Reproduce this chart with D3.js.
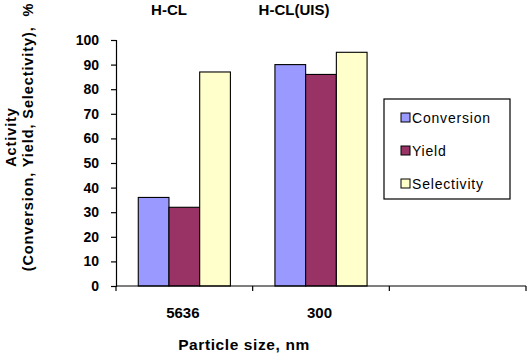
<!DOCTYPE html>
<html><head><meta charset="utf-8">
<script src="https://cdn.jsdelivr.net/npm/d3@7"></script>
<style>
html,body{margin:0;padding:0;background:#fff;}
text{font-family:"Liberation Sans",Arial,sans-serif;}
</style></head>
<body>
<svg id="chart" width="529" height="361"></svg>
<script>
const categories = ["5636", "300", ""];
const groupLabels = ["H-CL", "H-CL(UIS)"];
const seriesNames = ["Conversion", "Yield", "Selectivity"];
const conversion = [36, 90];
const yieldVals = [32, 86];
const selectivity = [87, 95];
const yTicks = [0, 10, 20, 30, 40, 50, 60, 70, 80, 90, 100];
const colors = ["#9999FF", "#993366", "#FFFFCC"];

(function () {
const seriesValues = [conversion, yieldVals, selectivity];
const data = categories.slice(0, 2).map((c, i) => ({
  cat: c,
  vals: seriesNames.map((s, j) => ({ key: s, value: seriesValues[j][i] }))
}));

const svg = d3.select("#chart");
const mLeft = 116, mRight = 526, mTop = 40, mBottom = 286;

const x = d3.scaleBand().domain(categories).range([mLeft, mRight]).padding(0);
const x1 = d3.scaleBand().domain(seriesNames).range([0, x.bandwidth()]).paddingInner(0).paddingOuter(0.725);
const y = d3.scaleLinear().domain([0, 100]).range([mBottom, mTop]);
const color = d3.scaleOrdinal().domain(seriesNames).range(colors);

// bars
const g = svg.append("g");
g.selectAll("g.grp").data(data).join("g").attr("class", "grp")
  .attr("transform", d => `translate(${x(d.cat)},0)`)
  .selectAll("rect").data(d => d.vals).join("rect")
  .attr("x", d => x1(d.key))
  .attr("y", d => y(d.value))
  .attr("width", x1.bandwidth())
  .attr("height", d => y(0) - y(d.value))
  .attr("fill", d => color(d.key))
  .attr("stroke", "#000")
  .attr("stroke-width", 1.1);

// y axis
const yAxis = d3.axisLeft(y).tickValues(yTicks).tickSize(5).tickPadding(12);
const ya = svg.append("g").attr("transform", `translate(${mLeft},0)`).call(yAxis);
ya.select(".domain").attr("stroke", "#000").attr("stroke-width", 1.2);
ya.selectAll(".tick line").attr("stroke", "#000").attr("stroke-width", 1.2);
ya.selectAll("text").attr("font-size", 14).attr("font-weight", "bold").attr("fill", "#000")
  .attr("font-family", "Liberation Sans, Arial, sans-serif");

// x axis line with ticks at band boundaries
const xa = svg.append("g");
xa.append("line").attr("x1", mLeft).attr("x2", mRight).attr("y1", y(0)).attr("y2", y(0))
  .attr("stroke", "#000").attr("stroke-width", 1.2);
const boundaries = categories.map(c => x(c)).concat([x(categories[categories.length - 1]) + x.bandwidth()]);
xa.selectAll("line.tk").data(boundaries).join("line").attr("class", "tk")
  .attr("x1", d => d).attr("x2", d => d).attr("y1", y(0)).attr("y2", y(0) + 5)
  .attr("stroke", "#000").attr("stroke-width", 1.2);
xa.selectAll("text.cl").data(categories.filter(c => c)).join("text").attr("class", "cl")
  .attr("x", d => x(d) + x.bandwidth() / 2 - 1.5)
  .attr("y", 318)
  .attr("text-anchor", "middle").attr("font-size", 15).attr("font-weight", "bold")
  .text(d => d);

// group labels on top
const groupX = [169, 294];
svg.selectAll("text.gl").data(groupLabels).join("text").attr("class", "gl")
  .attr("x", (d, i) => groupX[i]).attr("y", 15)
  .attr("text-anchor", "middle").attr("font-size", 15).attr("font-weight", "bold")
  .text(d => d);

// x axis title
svg.append("text").attr("x", 244).attr("y", 350).attr("text-anchor", "middle")
  .attr("font-size", 15.5).attr("font-weight", "bold").attr("letter-spacing", 0.6)
  .text("Particle size, nm");

// y axis title
const yt = svg.append("text").attr("transform", "translate(0,137) rotate(-90)")
  .attr("text-anchor", "middle").attr("font-size", 14.5).attr("font-weight", "bold")
  .attr("letter-spacing", 0.9)
  .style("white-space", "pre");
yt.append("tspan").attr("x", 0).attr("y", 16).text("Activity");
yt.append("tspan").attr("x", 0).attr("y", 33).text("(Conversion, Yield, Selectivity),  %");

// legend
const lg = svg.append("g");
lg.append("rect").attr("x", 384).attr("y", 99).attr("width", 126).attr("height", 100)
  .attr("fill", "#fff").attr("stroke", "#000").attr("stroke-width", 1.2);
const li = lg.selectAll("g.li").data(seriesNames).join("g").attr("class", "li")
  .attr("transform", (d, i) => `translate(401,${113 + i * 33})`);
li.append("rect").attr("width", 9).attr("height", 9).attr("fill", d => color(d))
  .attr("stroke", "#000").attr("stroke-width", 1);
li.append("text").attr("x", 11).attr("y", 9.5).attr("font-size", 14)
  .attr("letter-spacing", 0.8).text(d => d);
})();
</script>
</body></html>
